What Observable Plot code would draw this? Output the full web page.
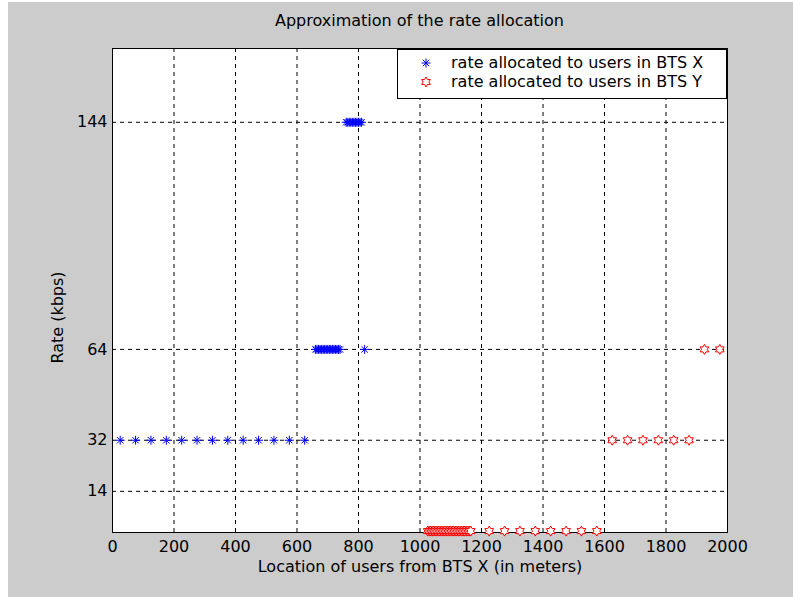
<!DOCTYPE html>
<html><head><meta charset="utf-8">
<script src="https://cdn.jsdelivr.net/npm/d3@7"></script>
<script src="https://cdn.jsdelivr.net/npm/@observablehq/plot@0.6"></script>
<style>
html,body{margin:0;padding:0;background:#ffffff;}
#fig{position:absolute;left:8px;top:2px;width:785px;height:595px;background:#cccccc;font-family:"DejaVu Sans",sans-serif;color:#000;overflow:hidden;}
#title{position:absolute;left:104px;top:0;width:615px;height:38px;line-height:37px;text-align:center;font-size:16px;}
#chart{position:absolute;left:0;top:38px;}
#legend{position:absolute;left:389px;top:47px;width:328px;height:45px;background:#fff;border:1px solid #000;padding-top:3px;box-sizing:content-box;}
.row{position:relative;height:19px;line-height:19px;font-size:16px;white-space:pre;}
.row svg{position:absolute;left:21px;top:3px;}
.row span{position:absolute;left:53px;top:0;}
</style>
</head><body>
<div id="fig">
  <div id="title">Approximation of the rate allocation</div>
  <div id="chart"></div>
  <div id="legend"></div>
</div>
<script>
// ---- data ----
const seriesNames = ["rate allocated to users in BTS X", "rate allocated to users in BTS Y"];
const btsXLocation = [25,75,125,175,225,275,325,375,425,475,525,575,625,
  660,665,670,675,680,685,690,695,700,705,710,715,720,725,730,735,740,820,
  760,765,770,775,780,785,790,795,800,805,810];
const btsXRate = [32,32,32,32,32,32,32,32,32,32,32,32,32,
  64,64,64,64,64,64,64,64,64,64,64,64,64,64,64,64,64,64,
  144,144,144,144,144,144,144,144,144,144,144];
const btsYLocation = [1025,1030,1035,1040,1045,1050,1055,1060,1065,1070,1075,1080,1085,1090,1095,1100,
  1105,1110,1115,1120,1125,1130,1135,1140,1145,1150,1155,1160,1165,
  1225,1275,1325,1375,1425,1475,1525,1575,
  1625,1675,1725,1775,1825,1875,
  1925,1975];
const btsYRate = [0,0,0,0,0,0,0,0,0,0,0,0,0,0,0,0,
  0,0,0,0,0,0,0,0,0,0,0,0,0,
  0,0,0,0,0,0,0,0,
  32,32,32,32,32,32,
  64,64];
const xTicks = [0,200,400,600,800,1000,1200,1400,1600,1800,2000];
const yTicks = [14,32,64,144];
const xLabel = "Location of users from BTS X (in meters)";
const yLabel = "Rate (kbps)";

// ---- marker symbols ----
const asterisk = {draw(ctx, size){
  const r = Math.sqrt(size/Math.PI);
  for(let k=0;k<4;k++){const a=k*Math.PI/4, c=Math.cos(a)*r, s=Math.sin(a)*r; ctx.moveTo(-c,-s); ctx.lineTo(c,s);}
}};
const hexagram = {draw(ctx, size){
  const R = Math.sqrt(size/Math.PI), r0 = R/Math.sqrt(3);
  for(let k=0;k<12;k++){const a=-Math.PI/2+k*Math.PI/6, rr=k%2===0?R:r0, x=Math.cos(a)*rr, y=Math.sin(a)*rr; if(k===0) ctx.moveTo(x,y); else ctx.lineTo(x,y);}
  ctx.closePath();
}};

const btsX = btsXLocation.map((x,i)=>({x, rate: btsXRate[i]}));
const btsY = btsYLocation.map((x,i)=>({x, rate: btsYRate[i]}));
const colors = ["#0000ff", "#ff0000"];

const plot = Plot.plot({
  width: 785, height: 557,
  marginLeft: 104, marginRight: 66, marginTop: 8, marginBottom: 65,
  style: {fontFamily: "DejaVu Sans", fontSize: "16px", background: "transparent", color: "#000", overflow: "visible"},
  x: {domain: [0, 2000], ticks: xTicks, tickFormat: d => String(d), tickSize: 0, tickPadding: 8,
      label: xLabel, labelAnchor: "center", labelOffset: 39, labelArrow: "none"},
  y: {domain: [-0.5, 170], ticks: yTicks, tickFormat: d => String(d), tickSize: 0, tickPadding: 5,
      label: null},
  marks: [
    Plot.frame({fill: "white", stroke: "none"}),
    Plot.ruleX(xTicks.slice(1, -1), {stroke: "black", strokeWidth: 1, strokeDasharray: "4,4"}),
    Plot.ruleY(yTicks, {stroke: "black", strokeWidth: 1, strokeDasharray: "4,4"}),
    Plot.frame({stroke: "black", strokeWidth: 1}),
    Plot.text([yLabel], {text: d => d, frameAnchor: "left", rotate: -90, dx: -55, dy: 27,
      textAnchor: "middle", lineAnchor: "middle", fontSize: 16, fill: "black"}),
    Plot.dot(btsX, {x: "x", y: "rate", symbol: asterisk, r: 4.5, stroke: colors[0], fill: "none", strokeWidth: 1}),
    Plot.dot(btsY, {x: "x", y: "rate", symbol: hexagram, r: 5, stroke: colors[1], fill: "white", strokeWidth: 1})
  ]
});
document.getElementById("chart").appendChild(plot);

// ---- legend ----
const legend = d3.select("#legend");
[asterisk, hexagram].forEach((sym, i) => {
  const row = legend.append("div").attr("class", "row");
  const svg = row.append("svg").attr("width", 14).attr("height", 14);
  const p = d3.path(); sym.draw(p, (i === 0 ? 4.5 : 5) ** 2 * Math.PI);
  svg.append("path").attr("transform", "translate(7,7)").attr("d", p.toString())
    .attr("stroke", colors[i]).attr("fill", i === 0 ? "none" : "white").attr("stroke-width", 1);
  row.append("span").text(seriesNames[i]);
});
</script>
</body></html>
